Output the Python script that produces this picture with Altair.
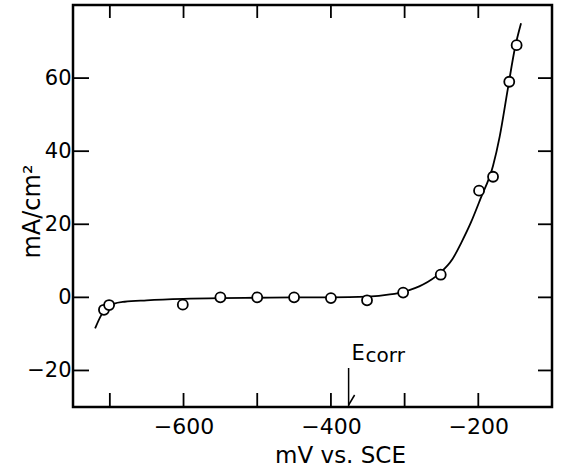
import altair as alt
import pandas as pd

# measured points (mV vs SCE, mA/cm^2)
pt_x = [-708, -701, -601, -550, -500, -450, -400, -351, -302, -251, -199, -180, -158, -148]
pt_y = [-3.4, -2.1, -2.0, 0.0, 0.0, 0.0, -0.2, -0.8, 1.3, 6.2, 29.2, 33.0, 59.0, 69.0]

# fitted curve
cv_x = [-720, -712, -705, -695, -680, -650, -600, -550, -500, -450, -400, -350, -320, -300,
        -275, -253, -235, -223, -210, -197, -180, -171, -160, -150, -142]
cv_y = [-8.5, -5.0, -3.0, -1.8, -1.2, -0.8, -0.4, -0.2, -0.1, 0.0, 0.0, 0.2, 0.8, 1.6,
        3.5, 6.5, 10.5, 15.0, 20.5, 27.0, 36.0, 44.0, 57.0, 68.5, 75.0]

x_ticks = [-700, -600, -500, -400, -300, -200]
x_labels = [-600, -400, -200]
y_ticks = [-20, 0, 20, 40, 60]
e_corr = [-376]

W, H = 479, 402
FONT = "DejaVu Sans"
xs = alt.Scale(domain=[-750, -100], nice=False, zero=False)
ys = alt.Scale(domain=[-30, 80], nice=False, zero=False)

pts = pd.DataFrame({"x": pt_x, "y": pt_y})
cv = pd.DataFrame({"x": cv_x, "y": cv_y})
xt = pd.DataFrame({"x": x_ticks})
yt = pd.DataFrame({"y": y_ticks})
ec = pd.DataFrame({"x": e_corr})

x_axis = alt.Axis(
    values=x_labels, title="mV vs. SCE", grid=False, domain=False, ticks=False,
    labelFont=FONT, labelFontSize=22, labelColor="black", labelBaseline="alphabetic",
    labelPadding=26, titleFont=FONT, titleFontSize=23, titleFontWeight="normal",
    titleColor="black", titleX=267, titleY=55, titleBaseline="alphabetic")
y_axis = alt.Axis(
    values=y_ticks, title="mA/cm²", grid=False, domain=False, ticks=False,
    labelFont=FONT, labelFontSize=21, labelColor="black", labelPadding=2,
    titleFont=FONT, titleFontSize=24, titleFontWeight="normal", titleColor="black",
    titleX=-34, titleY=206, titleBaseline="alphabetic", titleAngle=270)

X = alt.X("x:Q", scale=xs, axis=x_axis)
Y = alt.Y("y:Q", scale=ys, axis=y_axis)

# plot frame as one outlined rectangle
frame = alt.Chart(ec).mark_rect(fill="white", fillOpacity=0, stroke="black", strokeWidth=2.5).encode(
    x=alt.value(0), x2=alt.value(W), y=alt.value(0), y2=alt.value(H))

curve = alt.Chart(cv).mark_line(color="black", strokeWidth=1.8, interpolate="monotone").encode(
    x=X, y=Y)

points = alt.Chart(pts).mark_point(shape="circle", filled=False, fill="white", fillOpacity=1,
                                   stroke="black", strokeWidth=1.8, size=100, opacity=1).encode(
    x=X, y=Y)

bt = alt.Chart(xt).mark_rule(color="black", strokeWidth=1.8).encode(
    x=X, y=alt.value(H - 14), y2=alt.value(H))
tt = alt.Chart(xt).mark_rule(color="black", strokeWidth=1.8).encode(
    x=X, y=alt.value(0), y2=alt.value(13))
lt = alt.Chart(yt).mark_rule(color="black", strokeWidth=1.8).encode(
    y=Y, x=alt.value(0), x2=alt.value(16))
rt = alt.Chart(yt).mark_rule(color="black", strokeWidth=1.8).encode(
    y=Y, x=alt.value(W - 14), x2=alt.value(W))

ec_line = alt.Chart(ec).mark_rule(color="black", strokeWidth=1.5).encode(
    x=X, y=alt.value(363), y2=alt.value(H))
ec_tip = alt.Chart(ec).mark_rule(color="black", strokeWidth=1.5, x2Offset=6).encode(
    x=X, x2="x:Q", y=alt.value(400), y2=alt.value(390))
ec_e = alt.Chart(ec).mark_text(text="E", align="left", baseline="alphabetic", dx=3,
                               font=FONT, fontSize=21, color="black").encode(
    x=X, y=alt.value(355))
ec_corr = alt.Chart(ec).mark_text(text="corr", align="left", baseline="alphabetic", dx=17,
                                  font=FONT, fontSize=20, color="black").encode(
    x=X, y=alt.value(357))

chart = alt.layer(frame, curve, points, bt, tt, lt, rt,
                  ec_line, ec_tip, ec_e, ec_corr).properties(
    width=W, height=H,
    background="white",
    autosize=alt.AutoSizeParams(type="none"),
    padding={"left": 73, "top": 5, "right": 10, "bottom": 61},
).configure_view(strokeWidth=0)

chart.save("out.html", embed_options={"renderer": "svg", "actions": False})
